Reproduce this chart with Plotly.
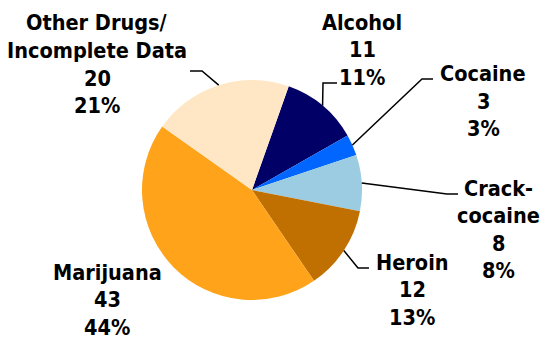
import math
import plotly.graph_objects as go

# Drug categories (clockwise from the Alcohol slice), counts and shown shares
labels = ["Alcohol", "Cocaine", "Crack-cocaine", "Heroin", "Marijuana",
          "Other Drugs/Incomplete Data"]
label_lines = [["Alcohol"], ["Cocaine"], ["Crack-", "cocaine"], ["Heroin"],
               ["Marijuana"], ["Other Drugs/", "Incomplete Data"]]
values = [11, 3, 8, 12, 43, 20]
pct_text = ["11%", "3%", "8%", "13%", "44%", "21%"]
colors = ["#000066", "#0066FF", "#9BCCE1", "#BF7000", "#FFA31A", "#FFE7C6"]

W, H = 545, 339
CX, CY, R = 252, 190, 110      # pie centre and radius in pixels
ROTATION = 19.5                # start angle, degrees clockwise from 12 o'clock


def px(x, y):
    """pixel position -> paper coordinates"""
    return x / W, 1 - y / H


fig = go.Figure(go.Pie(
    labels=labels, values=values, sort=False, direction="clockwise",
    rotation=ROTATION, marker=dict(colors=colors, line=dict(width=0)),
    textinfo="none", hoverinfo="label+value+percent", showlegend=False,
    domain=dict(x=[(CX - R) / W, (CX + R) / W],
                y=[1 - (CY + R) / H, 1 - (CY - R) / H]),
))

# label block placement: centre x, first line y (pixels)
label_pos = [(362, 22), (483, 74), (498, 188), (412, 262), (107, 272), (97, 23)]
# leader-line knees (pixels), from the pie edge out to the label
knees = [[(323, 83), (337, 83)],
         [(422, 79), (433, 79)],
         [(447, 194), (458, 194)],
         [(358, 268), (369, 268)],
         None,
         [(202, 71), (190, 71)]]

LINE_H = 27.5
font = dict(family="DejaVu Sans Condensed", size=21.5, color="#000000",
            weight="bold")

annotations = []
shapes = []
total = sum(values)
cum = 0
for i, v in enumerate(values):
    mid = math.radians(ROTATION + (cum + v / 2) / total * 360)
    cum += v
    lines = label_lines[i] + [str(v), pct_text[i]]
    lx, ly = label_pos[i]
    for j, t in enumerate(lines):
        x, y = px(lx, ly + j * LINE_H)
        annotations.append(dict(x=x, y=y, xref="paper", yref="paper",
                                text=t, showarrow=False, font=font,
                                xanchor="center", yanchor="middle"))
    if knees[i]:
        ax, ay = CX + R * math.sin(mid), CY - R * math.cos(mid)
        pts = [(ax, ay)] + knees[i]
        path = "M " + " L ".join(
            "{:.5f},{:.5f}".format(*px(x, y)) for x, y in pts)
        shapes.append(dict(type="path", path=path, xref="paper",
                           yref="paper", line=dict(color="#000000", width=1.5)))

fig.update_layout(
    width=W, height=H, margin=dict(l=0, r=0, t=0, b=0),
    paper_bgcolor="#FFFFFF", plot_bgcolor="#FFFFFF",
    annotations=annotations, shapes=shapes,
)

fig.write_html("out.html")
